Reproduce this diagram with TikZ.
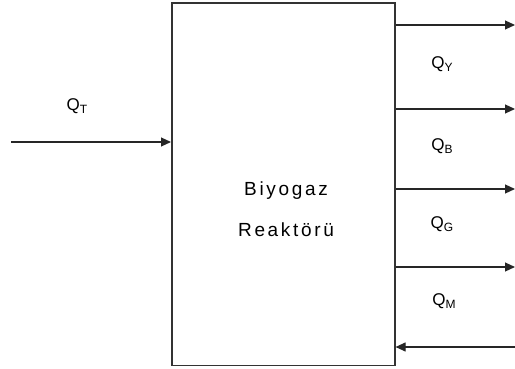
\documentclass[tikz,border=0pt]{standalone}
\usepackage{fontspec}
\setmainfont{Liberation Sans}
\usetikzlibrary{arrows.meta}
\newcommand{\qsub}[1]{\raisebox{-3pt}{\fontsize{12}{12}\selectfont #1}}
\begin{document}
\begin{tikzpicture}[x=1pt,y=-1pt,
  flow/.style={line width=1.1pt, draw=black!85, -{Triangle[length=10pt,width=9pt]}},
  qlab/.style={font=\fontsize{17}{17}\selectfont, inner sep=0pt, anchor=center}]
\useasboundingbox (0,0) rectangle (515,369);
\node[draw=black!80, line width=1.6pt, minimum width=223pt, minimum height=362pt, inner sep=0pt, anchor=north west] (box) at (171,2.5) {};
\node[font=\fontsize{19}{41}\selectfont\addfontfeature{LetterSpace=14}, align=center] (txt) at (286,209) {Biyogaz\\Reaktörü};
\coordinate (in) at (11,142);
\coordinate (o1) at (515,25);
\coordinate (o2) at (515,109);
\coordinate (o3) at (515,189);
\coordinate (o4) at (515,267);
\coordinate (r) at (515,347);
\draw[flow] (in) -- (in -| box.west);
\draw[flow] (o1 -| box.east) -- (o1);
\draw[flow] (o2 -| box.east) -- (o2);
\draw[flow] (o3 -| box.east) -- (o3);
\draw[flow] (o4 -| box.east) -- (o4);
\draw[flow] (r) -- (r -| box.east);
\node[qlab] (qt) at (77,106) {Q\qsub{T}};
\node[qlab] (qy) at (442,64) {Q\qsub{Y}};
\node[qlab] (qb) at (442,146) {Q\qsub{B}};
\node[qlab] (qg) at (442,224) {Q\qsub{G}};
\node[qlab] (qm) at (444,301) {Q\qsub{M}};
\end{tikzpicture}
\end{document}
